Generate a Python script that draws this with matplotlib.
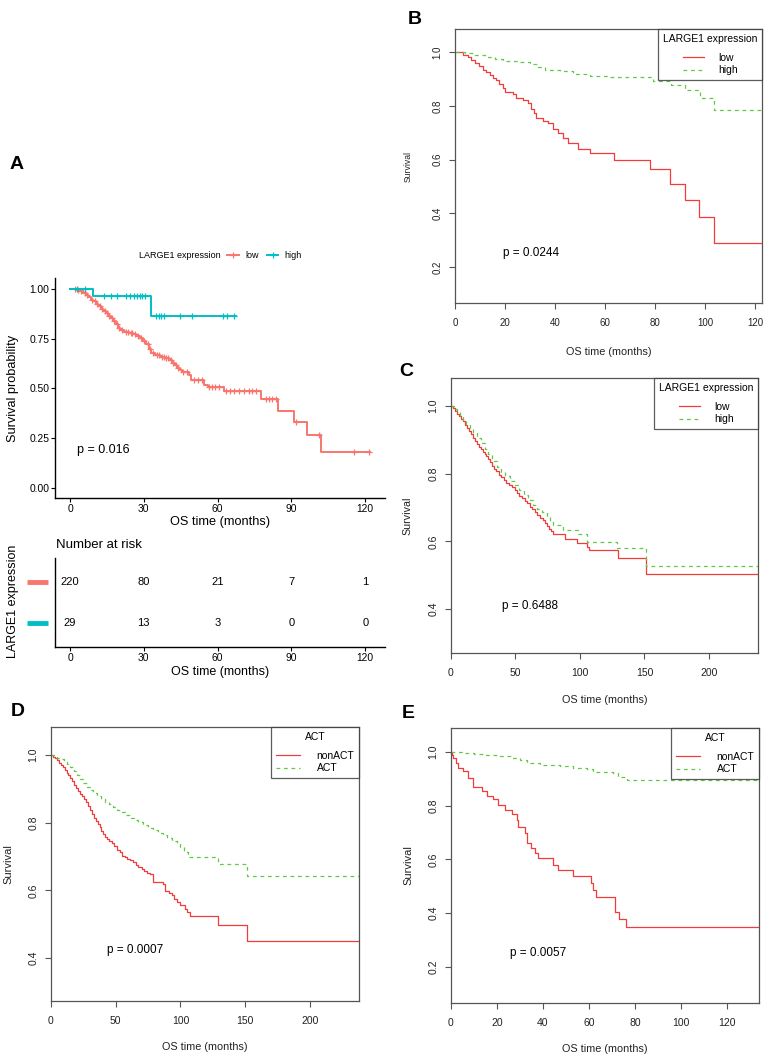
import numpy as np
import matplotlib
matplotlib.use('Agg')
import matplotlib.pyplot as plt
from matplotlib.lines import Line2D
import matplotlib.transforms as mtransforms

plt.rcParams['font.family'] = ['Liberation Sans', 'DejaVu Sans']

W, H = 770, 1062

# ---------------- Panel A (TCGA, ggplot style) ----------------
a_low_t = [0, 2.7, 4.0, 5.4, 6.5, 7.5, 8.5, 9.5, 10.5, 11.5, 12.5, 13.5, 14.5, 15.5, 16.5,
           17.5, 18.5, 19.5, 20.5, 22.0, 24.0, 25.6, 27.0, 28.3, 29.5, 31.0, 32.0, 33.0, 34.5,
           36.4, 38.5, 40.4, 41.5, 42.5, 43.5, 44.5, 45.5, 48.5, 49.2, 54.6, 55.9, 62.7, 77.5,
           84.7, 91.0, 96.4, 101.8]
a_low_s = [1.0, 0.995, 0.99, 0.98, 0.97, 0.958, 0.947, 0.937, 0.925, 0.912, 0.90, 0.89, 0.878,
           0.866, 0.853, 0.838, 0.822, 0.806, 0.795, 0.786, 0.781, 0.775, 0.765, 0.753, 0.74,
           0.722, 0.70, 0.68, 0.67, 0.66, 0.652, 0.642, 0.63, 0.618, 0.605, 0.592, 0.582, 0.568,
           0.545, 0.52, 0.51, 0.485, 0.446, 0.385, 0.334, 0.268, 0.18]
a_low_end = 122
a_low_cens = [2.2, 3.4, 4.6, 5.9, 7.1, 8.9, 10.0, 11.1, 12.0, 13.1, 14.1, 15.0, 16.0, 17.1, 18.0,
              19.0, 20.1, 21.2, 22.8, 23.5, 24.6, 25.2, 26.4, 27.6, 28.9, 30.2, 31.5, 32.6,
              33.8, 35.2, 36.0, 37.4, 38.0, 39.2, 40.0, 41.0, 42.0, 43.0, 44.0, 46.0, 47.4,
              50.5, 52.0, 53.5, 56.5, 57.8, 59.0, 60.5, 63.5, 65.0, 66.5, 68.8, 70.8, 72.8,
              74.1, 75.5, 79.5, 80.9, 82.2, 83.6, 91.8, 101.0, 115.3, 121.6]
a_high_t = [0, 9.5, 33.0]
a_high_s = [1.0, 0.966, 0.866]
a_high_end = 67.5
a_high_cens = [2.7, 6.0, 13.9, 16.6, 19.2, 22.9, 24.5, 25.9, 27.2, 28.3, 29.4, 30.3,
               34.8, 36.1, 37.1, 38.0, 44.8, 49.6, 62.3, 63.6, 66.7]
a_pval = "p = 0.016"
risk_times = [0, 30, 60, 90, 120]
risk_low = [220, 80, 21, 7, 1]
risk_high = [29, 13, 3, 0, 0]
a_xticks = [0, 30, 60, 90, 120]
a_yticks = [0.00, 0.25, 0.50, 0.75, 1.00]

# ---------------- Panel B ----------------
b_low_t = [0, 3, 5, 6.5, 8, 9.5, 11, 12.5, 14, 15, 16.5, 17.5, 19, 20, 23, 24.5, 27, 29, 30.5,
           31.5, 32.5, 35, 37, 39, 41, 43, 45, 49, 54, 63.5, 78, 86, 92, 97.5, 103.5]
b_low_s = [1.0, 0.99, 0.98, 0.97, 0.96, 0.95, 0.935, 0.925, 0.915, 0.905, 0.895, 0.88, 0.865,
           0.85, 0.845, 0.83, 0.82, 0.81, 0.79, 0.775, 0.755, 0.745, 0.735, 0.715, 0.70, 0.68,
           0.66, 0.64, 0.625, 0.60, 0.565, 0.51, 0.45, 0.385, 0.29]
b_high_t = [0, 4, 8, 12, 16, 19, 25, 30, 33, 36, 42, 47, 54, 62, 79, 86.5, 92, 98, 103.5]
b_high_s = [1.0, 0.995, 0.99, 0.982, 0.975, 0.968, 0.962, 0.955, 0.945, 0.935, 0.928, 0.92,
            0.912, 0.908, 0.893, 0.878, 0.858, 0.828, 0.785]
b_end = 123
b_pval = "p = 0.0244"

# ---------------- Panel C ----------------
c_low_t = [0, 1.5, 3, 4.5, 6, 7.5, 9, 11, 12.5, 14, 15.5, 17, 18.5, 20, 21.5, 23, 24.5, 26,
           27.5, 29, 30.5, 32, 33.5, 35, 37, 39, 41, 43, 45, 47, 49.5, 51.5, 53, 55, 57, 59,
           61, 63, 65, 67, 69, 71, 73, 74.5, 76, 77.5, 79, 88.4, 97.4, 105.2, 107, 129.2, 151.2]
c_low_s = [1.0, 0.993, 0.985, 0.978, 0.97, 0.962, 0.955, 0.945, 0.935, 0.927, 0.918, 0.907,
           0.897, 0.888, 0.879, 0.872, 0.865, 0.858, 0.851, 0.843, 0.834, 0.824, 0.815, 0.807,
           0.797, 0.789, 0.78, 0.772, 0.766, 0.76, 0.751, 0.742, 0.735, 0.727, 0.72, 0.712,
           0.703, 0.695, 0.686, 0.677, 0.67, 0.662, 0.653, 0.645, 0.637, 0.63, 0.622, 0.606,
           0.596, 0.584, 0.574, 0.552, 0.503]
c_high_t = [0, 2, 4.5, 7, 9.5, 12, 14.5, 17.3, 20, 23, 26, 29, 32, 35.4, 38.5, 42, 46, 49.6,
            53, 56.5, 60, 63.8, 67, 70.5, 74.2, 76.5, 79.3, 87.1, 98.7, 105.2, 128.7, 151.2]
c_high_s = [1.0, 0.992, 0.982, 0.97, 0.958, 0.945, 0.932, 0.919, 0.905, 0.89, 0.873, 0.857,
            0.838, 0.82, 0.806, 0.792, 0.778, 0.766, 0.753, 0.738, 0.722, 0.707, 0.697, 0.686,
            0.673, 0.66, 0.648, 0.633, 0.621, 0.599, 0.579, 0.527]
c_end = 238
c_pval = "p = 0.6488"

# ---------------- Panel D ----------------
d_non_t = [0, 1.5, 3, 4.5, 6, 7.5, 9, 10.5, 12, 13.5, 15, 16.5, 18, 19.5, 21, 22.5, 24, 25.5,
           27, 28.5, 30, 31.5, 33, 34.5, 36, 37.5, 39, 40.5, 42, 43.5, 45, 47, 49, 51, 53, 55,
           57, 59, 61, 63.5, 65.5, 67.5, 70, 72, 74.5, 76.4, 79, 86.7, 88, 91, 93.2, 95, 97,
           100, 103.5, 105, 107.3, 129.2, 151.1]
d_non_s = [1.0, 0.995, 0.99, 0.984, 0.978, 0.972, 0.964, 0.955, 0.947, 0.94, 0.932, 0.922,
           0.912, 0.904, 0.895, 0.886, 0.878, 0.869, 0.86, 0.849, 0.838, 0.826, 0.814, 0.804,
           0.795, 0.786, 0.776, 0.767, 0.759, 0.752, 0.745, 0.739, 0.73, 0.72, 0.712, 0.703,
           0.698, 0.694, 0.69, 0.684, 0.676, 0.669, 0.664, 0.658, 0.652, 0.647, 0.625, 0.618,
           0.597, 0.591, 0.585, 0.576, 0.566, 0.557, 0.546, 0.537, 0.524, 0.499, 0.451]
d_act_t = [0, 2.5, 5, 7.5, 10, 12.5, 15, 17.5, 20, 22.5, 25, 27.5, 30, 32.7, 35.5, 38.5, 41.5,
           44.5, 48, 51, 54.5, 58, 61, 64, 67.5, 71, 75, 79, 83, 86.7, 90, 93.5, 97, 100, 103,
           106, 129.2, 151.1]
d_act_s = [1.0, 0.997, 0.992, 0.987, 0.981, 0.974, 0.964, 0.953, 0.942, 0.93, 0.918, 0.907,
           0.897, 0.887, 0.878, 0.869, 0.861, 0.854, 0.847, 0.839, 0.831, 0.823, 0.815, 0.808,
           0.801, 0.793, 0.785, 0.778, 0.77, 0.763, 0.755, 0.747, 0.739, 0.727, 0.714, 0.70,
           0.678, 0.642]
d_end = 238
d_pval = "p = 0.0007"

# ---------------- Panel E ----------------
e_non_t = [0, 0.5, 1, 2, 3.2, 5.4, 7.5, 9.7, 13.3, 15.5, 18.4, 20.6, 23.5, 26.4, 28.8, 29.3,
           32.2, 32.9, 34.8, 36.5, 38, 44.5, 46.7, 53.2, 60.7, 61.9, 62.9, 71.3, 73.2, 76.1]
e_non_s = [1.0, 0.99, 0.977, 0.96, 0.94, 0.93, 0.903, 0.871, 0.853, 0.836, 0.824, 0.803,
           0.784, 0.768, 0.745, 0.722, 0.697, 0.663, 0.644, 0.623, 0.604, 0.579, 0.56, 0.538,
           0.511, 0.486, 0.459, 0.405, 0.38, 0.347]
e_act_t = [0, 5, 10, 15, 21.3, 26, 30, 32.9, 38.7, 47.4, 53, 59, 61.9, 70.6, 72.8, 76.4]
e_act_s = [1.0, 0.997, 0.993, 0.989, 0.983, 0.976, 0.97, 0.96, 0.953, 0.947, 0.942, 0.937,
           0.927, 0.923, 0.908, 0.896]
e_end = 134
e_pval = "p = 0.0057"

# ---------------- helpers ----------------
def fx(x):
    return x / W

def fy(y):
    return 1 - y / H

def rect(l, t, r, b):
    return [fx(l), fy(b), (r - l) / W, (b - t) / H]

def step_xy(t, s, end):
    return list(t) + [end], list(s) + [s[-1]]

def surv_at(t, s, x):
    idx = np.searchsorted(np.asarray(t), np.asarray(x), side='right') - 1
    return np.asarray(s)[idx]

fig = plt.figure(figsize=(W / 100, H / 100), dpi=100)

GG_RED = '#F8766D'
GG_TEAL = '#00BFC4'
R_RED = '#F23C3C'
R_GREEN = '#62C945'
SPC = '#555555'

# ---------------- Panel A main ----------------
axA = fig.add_axes(rect(55, 278, 385, 498))
x, y = step_xy(a_low_t, a_low_s, a_low_end)
axA.step(x, y, where='post', color=GG_RED, lw=1.4)
axA.plot(a_low_cens, surv_at(a_low_t, a_low_s, a_low_cens), '+', color=GG_RED, ms=5, mew=0.9)
x, y = step_xy(a_high_t, a_high_s, a_high_end)
axA.step(x, y, where='post', color=GG_TEAL, lw=1.4)
axA.plot(a_high_cens, surv_at(a_high_t, a_high_s, a_high_cens), '+', color=GG_TEAL, ms=5, mew=0.9)
axA.set_xlim(-6.1, 128)
axA.set_ylim(-0.05, 1.055)
axA.set_xticks(a_xticks)
axA.set_yticks(a_yticks)
axA.set_yticklabels(['%.2f' % v for v in a_yticks])
for s in ['top', 'right']:
    axA.spines[s].set_visible(False)
for s in ['left', 'bottom']:
    axA.spines[s].set_linewidth(1.0)
axA.tick_params(length=3, width=0.8, labelsize=7.4, pad=1, colors='black')
fig.text(fx(77), fy(450), a_pval, fontsize=9, ha='left', va='center')
fig.text(fx(220), fy(522), 'OS time (months)', fontsize=9.2, ha='center', va='center')
fig.text(fx(13), fy(388), 'Survival probability', fontsize=9.2, ha='center', va='center', rotation=90)

# legend at top
fig.text(fx(139), fy(256), 'LARGE1 expression', fontsize=6.5, ha='left', va='center')
h_low = Line2D([], [], color=GG_RED, lw=1.4, marker='+', ms=5, mew=0.9)
h_high = Line2D([], [], color=GG_TEAL, lw=1.4, marker='+', ms=5, mew=0.9)
fig.legend([h_low, h_high], ['low', 'high'], loc='center left', bbox_to_anchor=(fx(227), fy(256)),
           ncol=2, frameon=False, fontsize=6.5, handlelength=1.3, handletextpad=0.7,
           columnspacing=0.9, borderpad=0, borderaxespad=0)

# ---------------- Panel A risk table ----------------
axT = fig.add_axes(rect(55, 558, 385, 647))
axT.set_xlim(-6.1, 128)
axT.set_ylim(0.4, 2.6)
for xt, n in zip(risk_times, risk_low):
    axT.text(xt, 2, str(n), ha='center', va='center', fontsize=8)
for xt, n in zip(risk_times, risk_high):
    axT.text(xt, 1, str(n), ha='center', va='center', fontsize=8)
axT.set_xticks(risk_times)
axT.set_yticks([])
for s in ['top', 'right']:
    axT.spines[s].set_visible(False)
for s in ['left', 'bottom']:
    axT.spines[s].set_linewidth(1.0)
axT.tick_params(length=3, width=0.8, labelsize=7.4, pad=1, colors='black')
trans = mtransforms.blended_transform_factory(fig.transFigure, axT.transData)
axT.add_line(Line2D([fx(27), fx(48)], [2, 2], transform=trans, color=GG_RED, lw=3.5,
                    solid_capstyle='butt', clip_on=False))
axT.add_line(Line2D([fx(27), fx(48)], [1, 1], transform=trans, color=GG_TEAL, lw=3.5,
                    solid_capstyle='butt', clip_on=False))
fig.text(fx(56), fy(545), 'Number at risk', fontsize=9.5, ha='left', va='center')
fig.text(fx(220), fy(672), 'OS time (months)', fontsize=9, ha='center', va='center')
fig.text(fx(13), fy(601), 'LARGE1 expression', fontsize=9, ha='center', va='center', rotation=90)


# ---------------- R-style panels ----------------
def r_panel(box, xlim, ylim, xticks, yticks, curves, legend_title, labels, pval, pxy,
            ylab_fs, tick_fs, xlab_y, ylab_x, hl=2.1, htp=1.3):
    l, t, r, b = box
    ax = fig.add_axes(rect(l, t, r, b))
    for (tt, ss, end, col, ls) in curves:
        x, y = step_xy(tt, ss, end)
        ax.step(x, y, where='post', color=col, lw=0.9, ls=ls)
    ax.set_xlim(*xlim)
    ax.set_ylim(*ylim)
    ax.set_xticks(xticks)
    ax.set_yticks(yticks)
    ax.set_yticklabels(['%.1f' % v for v in yticks])
    for sp in ax.spines.values():
        sp.set_color(SPC)
        sp.set_linewidth(0.9)
    ax.tick_params(axis='both', direction='out', length=4.3, width=0.8, color=SPC,
                   labelsize=tick_fs, labelcolor='#222222')
    ax.tick_params(axis='x', pad=6.3)
    ax.tick_params(axis='y', pad=4.7, labelrotation=90)
    for lab in ax.get_yticklabels():
        lab.set_va('center')
    handles = [Line2D([], [], color=c[3], lw=0.9, ls=c[4]) for c in curves]
    leg = ax.legend(handles, labels, title=legend_title, loc='upper right', fontsize=7.5,
                    title_fontsize=7.5, frameon=True, fancybox=False, borderaxespad=0,
                    borderpad=0.45, labelspacing=0.25, handlelength=hl, handletextpad=htp)
    leg._legend_box.sep = 6.5
    leg.get_frame().set_edgecolor('#333333')
    leg.get_frame().set_linewidth(0.9)
    ax.text(pxy[0], pxy[1], pval, transform=fig.transFigure, fontsize=8.5, ha='left', va='center')
    fig.text(fx((l + r) / 2), fy(xlab_y), 'OS time (months)', fontsize=7.8, ha='center', va='center',
             color='#222222')
    fig.text(fx(ylab_x), fy((t + b) / 2), 'Survival', fontsize=ylab_fs, ha='center', va='center',
             rotation=90, color='#222222')
    return ax


r_panel((455, 29, 762, 303), (0, 122.8), (0.066, 1.086), [0, 20, 40, 60, 80, 100, 120],
        [0.2, 0.4, 0.6, 0.8, 1.0],
        [(b_low_t, b_low_s, b_end, R_RED, '-'), (b_high_t, b_high_s, b_end, R_GREEN, (0, (3, 3)))],
        'LARGE1 expression', ['low', 'high'], b_pval, (fx(503), fy(253)), 6.2, 7.0, 352, 408)

r_panel((451, 378, 758, 653), (0, 238), (0.27, 1.083), [0, 50, 100, 150, 200],
        [0.4, 0.6, 0.8, 1.0],
        [(c_low_t, c_low_s, c_end, R_RED, '-'), (c_high_t, c_high_s, c_end, R_GREEN, (0, (3, 3)))],
        'LARGE1 expression', ['low', 'high'], c_pval, (fx(502), fy(606)), 7.7, 7.5, 700, 407)

r_panel((51, 727, 359, 1001), (0, 238), (0.273, 1.083), [0, 50, 100, 150, 200],
        [0.4, 0.6, 0.8, 1.0],
        [(d_non_t, d_non_s, d_end, R_RED, '-'), (d_act_t, d_act_s, d_end, R_GREEN, (0, (3, 3)))],
        'ACT', ['nonACT', 'ACT'], d_pval, (fx(107), fy(950)), 8.0, 7.5, 1047, 8, hl=2.3, htp=1.6)

r_panel((451, 728, 759, 1003), (0, 134), (0.066, 1.089), [0, 20, 40, 60, 80, 100, 120],
        [0.2, 0.4, 0.6, 0.8, 1.0],
        [(e_non_t, e_non_s, e_end, R_RED, '-'), (e_act_t, e_act_s, e_end, R_GREEN, (0, (3, 3)))],
        'ACT', ['nonACT', 'ACT'], e_pval, (fx(510), fy(953)), 8.0, 7.5, 1049, 408, hl=2.3, htp=1.6)

# panel letters
for letter, (lx, ly) in {'A': (17, 164), 'B': (415, 20), 'C': (406, 371),
                         'D': (18, 712), 'E': (408, 713)}.items():
    fig.text(fx(lx), fy(ly), letter, fontsize=14, fontweight='bold', ha='center', va='center')

fig.savefig('out.png', dpi=100, facecolor='white')
